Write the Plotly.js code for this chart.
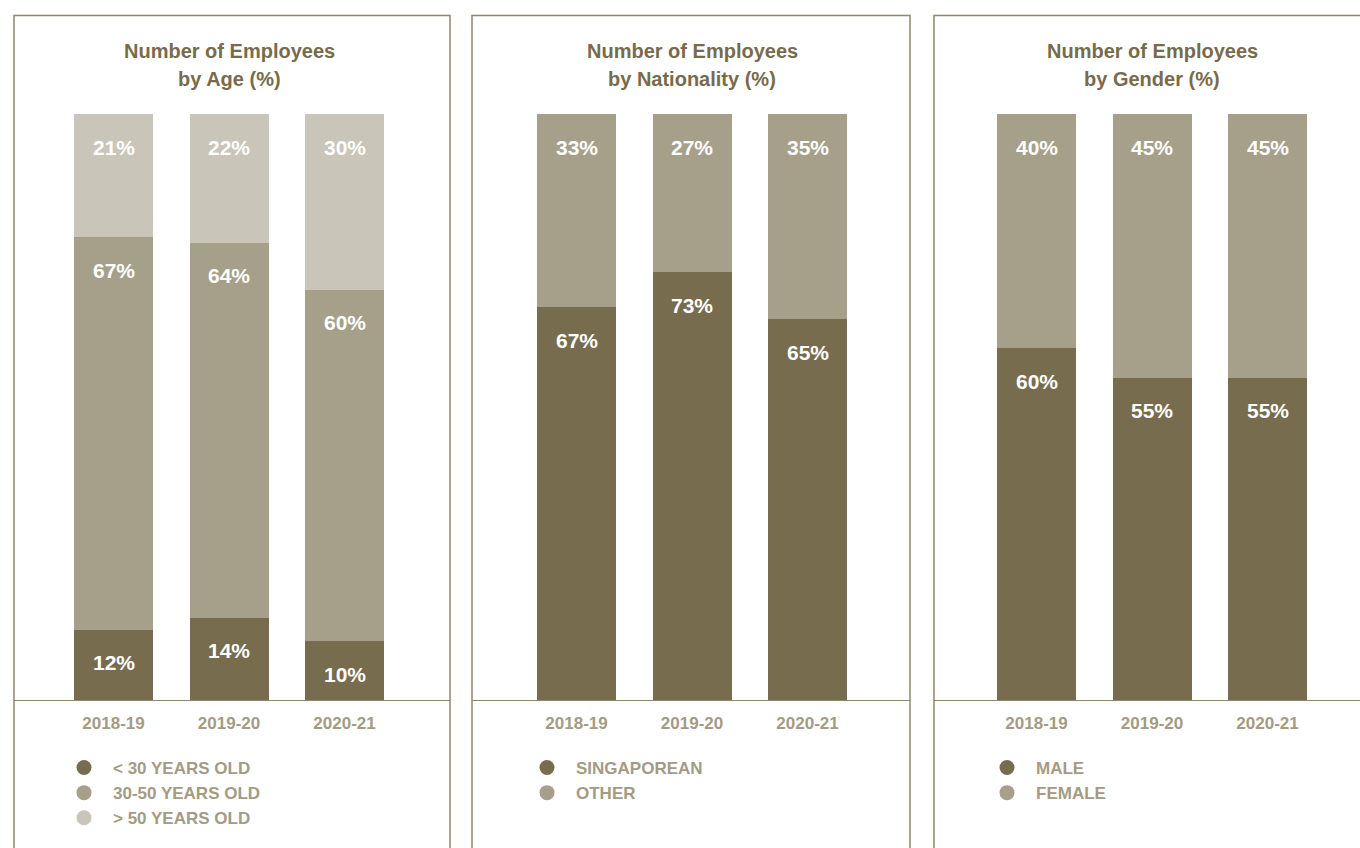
<!DOCTYPE html>
<html><head><meta charset="utf-8">
<script src="https://cdn.plot.ly/plotly-3.0.1.min.js"></script>
<style>html,body{margin:0;padding:0;background:#fff}</style>
</head><body>
<div id="chart" style="width:1360px;height:848px"></div>
<script>
// ---- data ----
const years = ['2018-19', '2019-20', '2020-21'];
const ageUnder30 = [12, 14, 10];
const age30to50 = [67, 64, 60];
const ageOver50 = [21, 22, 30];
const natSingaporean = [67, 73, 65];
const natOther = [33, 27, 35];
const genderMale = [60, 55, 55];
const genderFemale = [40, 45, 45];
const ageNames = ['< 30 YEARS OLD', '30-50 YEARS OLD', '> 50 YEARS OLD'];
const natNames = ['SINGAPOREAN', 'OTHER'];
const genderNames = ['MALE', 'FEMALE'];
const titleLine1 = 'Number of Employees';
const titleLines2 = ['by Age (%)', 'by Nationality (%)', 'by Gender (%)'];

// ---- style ----
const W = 1360, H = 848;
const FONT = 'Liberation Sans, Arial, Helvetica, sans-serif';
const DARK = '#776c4e', MID = '#a69f8a', LIGHT = '#c9c5b8';
const TITLE_C = '#776b4d', TICK_C = '#a39b83', BORDER_C = '#8f866e';
const PX_PER_CAT = 115.5, BAR_W = 79;
const BASE_Y = 700, TOP_Y = 114;

const panels = [
  {left: 14, right: 450, c0: 113.5, series: [ageUnder30, age30to50, ageOver50], names: ageNames, colors: [DARK, MID, LIGHT], legPx: 55},
  {left: 472, right: 910, c0: 576.5, series: [natSingaporean, natOther], names: natNames, colors: [DARK, MID], legPx: 518},
  {left: 934, right: 1360, c0: 1036.5, series: [genderMale, genderFemale], names: genderNames, colors: [DARK, MID], legPx: 978}
];

const traces = [], annotations = [], shapes = [];
const layout = {
  width: W, height: H, margin: {l: 0, r: 0, t: 0, b: 0},
  paper_bgcolor: '#fff', plot_bgcolor: 'rgba(0,0,0,0)',
  barmode: 'stack', bargap: 1 - BAR_W / PX_PER_CAT,
  font: {family: FONT},
  showlegend: true
};

panels.forEach((p, i) => {
  const n = i === 0 ? '' : String(i + 1);
  const xa = 'x' + n, ya = 'y' + n;
  const r0 = -(p.c0 - p.left) / PX_PER_CAT;
  const r1 = r0 + (p.right - p.left) / PX_PER_CAT;
  layout['xaxis' + n] = {
    domain: [p.left / W, Math.min(p.right / W, 1)], range: [r0, r1], anchor: ya,
    type: 'category', showgrid: false, zeroline: false, showline: true, linecolor: BORDER_C, linewidth: 1,
    ticks: '', ticklabelstandoff: 8, fixedrange: true,
    tickfont: {family: FONT, size: 17, color: TICK_C, weight: 'bold'}
  };
  layout['yaxis' + n] = {
    domain: [(H - BASE_Y) / H, (H - TOP_Y) / H], range: [0, 100], anchor: xa,
    visible: false, showgrid: false, zeroline: false, fixedrange: true
  };
  const cum = years.map(() => 0);
  p.series.forEach((vals, k) => {
    traces.push({
      type: 'bar', x: years, y: vals, xaxis: xa, yaxis: ya, name: p.names[k],
      marker: {color: p.colors[k], line: {width: 0}}, showlegend: false, hoverinfo: 'skip'
    });
    vals.forEach((v, j) => {
      cum[j] += v;
      annotations.push({
        xref: xa, yref: ya, x: years[j], y: cum[j], yshift: -33, yanchor: 'middle', xanchor: 'center',
        text: v + '%', showarrow: false, font: {family: FONT, size: 21, color: '#ffffff', weight: 'bold'}
      });
    });
    // legend entry with round symbol
    traces.push({
      type: 'scatter', mode: 'markers', x: [null], y: [null], xaxis: xa, yaxis: ya, name: p.names[k],
      marker: {size: 15, color: p.colors[k]}, legend: 'legend' + n, showlegend: true, hoverinfo: 'skip'
    });
  });
  layout['legend' + n] = {
    x: p.legPx / W, y: 1 - 750 / H, xanchor: 'left', yanchor: 'top',
    itemwidth: 48, bgcolor: 'rgba(0,0,0,0)', borderwidth: 0, traceorder: 'normal',
    font: {family: FONT, size: 17, color: TICK_C, weight: 'bold'}, itemclick: false, itemdoubleclick: false
  };
  // titles
  annotations.push({xref: xa, yref: 'paper', x: 1, y: 1 - 51 / H, yanchor: 'middle', xanchor: 'center', showarrow: false,
    text: titleLine1, font: {family: FONT, size: 20, color: TITLE_C, weight: 'bold'}});
  annotations.push({xref: xa, yref: 'paper', x: 1, y: 1 - 79 / H, yanchor: 'middle', xanchor: 'center', showarrow: false,
    text: titleLines2[i], font: {family: FONT, size: 20, color: TITLE_C, weight: 'bold'}});
  // panel border
  shapes.push({type: 'rect', xref: 'paper', yref: 'paper', x0: p.left / W, x1: (p.right === W ? W + 20 : p.right) / W,
    y0: -0.2, y1: 1 - 15.5 / H, line: {color: BORDER_C, width: 1.5}, fillcolor: 'rgba(0,0,0,0)', layer: 'below'});
});

layout.annotations = annotations;
layout.shapes = shapes;

Plotly.newPlot('chart', traces, layout, {displayModeBar: false, staticPlot: true});
</script>
</body></html>
